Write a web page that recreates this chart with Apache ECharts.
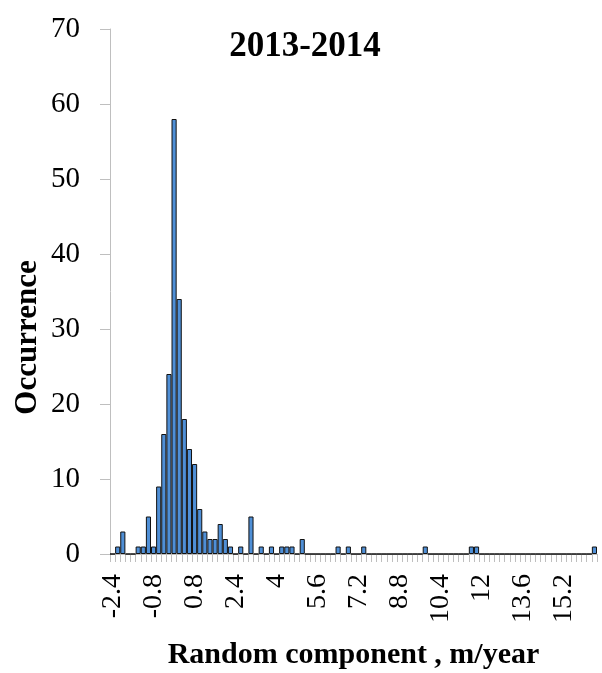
<!DOCTYPE html>
<html>
<head>
<meta charset="utf-8">
<script src="https://cdn.jsdelivr.net/npm/echarts@6/dist/echarts.min.js"></script>
<style>
  html, body { margin: 0; padding: 0; background: #fff; }
  #chart { width: 602px; height: 673px; }
</style>
</head>
<body>
<div id="chart"></div>
<script>
// Histogram bins of the random component (m/year), 0.2 wide
const binLabels = [
  '-2.4','-2.2','-2','-1.8','-1.6','-1.4','-1.2','-1','-0.8','-0.6',
  '-0.4','-0.2','0','0.2','0.4','0.6','0.8','1','1.2','1.4',
  '1.6','1.8','2','2.2','2.4','2.6','2.8','3','3.2','3.4',
  '3.6','3.8','4','4.2','4.4','4.6','4.8','5','5.2','5.4',
  '5.6','5.8','6','6.2','6.4','6.6','6.8','7','7.2','7.4',
  '7.6','7.8','8','8.2','8.4','8.6','8.8','9','9.2','9.4',
  '9.6','9.8','10','10.2','10.4','10.6','10.8','11','11.2','11.4',
  '11.6','11.8','12','12.2','12.4','12.6','12.8','13','13.2','13.4',
  '13.6','13.8','14','14.2','14.4','14.6','14.8','15','15.2','15.4',
  '15.6','15.8','16','16.2','16.4'
];

// Occurrence count per bin
const occurrence = [
  0, 1, 3, 0, 0, 1, 1, 5, 1, 9,
  16, 24, 58, 34, 18, 14, 12, 6, 3, 2,
  2, 4, 2, 1, 0, 1, 0, 5, 0, 1,
  0, 1, 0, 1, 1, 1, 0, 2, 0, 0,
  0, 0, 0, 0, 1, 0, 1, 0, 0, 1,
  0, 0, 0, 0, 0, 0, 0, 0, 0, 0,
  0, 1, 0, 0, 0, 0, 0, 0, 0, 0,
  1, 1, 0, 0, 0, 0, 0, 0, 0, 0,
  0, 0, 0, 0, 0, 0, 0, 0, 0, 0,
  0, 0, 0, 0, 1
];

const yTicks = { min: 0, max: 70, step: 10 };

const serif = "'Liberation Serif', 'DejaVu Serif', serif";
const axisGray = '#bfbfbf';

const chart = echarts.init(document.getElementById('chart'), null, { renderer: 'canvas' });

chart.setOption({
  animation: false,
  backgroundColor: '#ffffff',
  title: {
    text: '2013-2014',
    left: 300,
    top: 24,
    textAlign: 'center',
    textStyle: { fontFamily: serif, fontWeight: 'bold', fontSize: 35, color: '#000' }
  },
  grid: { left: 110, right: 5, top: 29, bottom: 119, containLabel: false, outerBoundsMode: 'none' },
  xAxis: {
    type: 'category',
    data: binLabels,
    boundaryGap: true,
    name: 'Random component , m/year',
    nameLocation: 'middle',
    nameGap: 86,
    nameMoveOverlap: false,
    nameTextStyle: { fontFamily: serif, fontWeight: 'bold', fontSize: 30, color: '#000' },
    axisLine: { show: true, lineStyle: { color: axisGray, width: 1 } },
    axisTick: { show: true, interval: 0, length: 8, lineStyle: { color: axisGray } },
    axisLabel: {
      interval: 7,
      rotate: 90,
      margin: 20,
      fontFamily: serif,
      fontSize: 28,
      color: '#000'
    },
    splitLine: { show: false }
  },
  yAxis: {
    type: 'value',
    min: yTicks.min,
    max: yTicks.max,
    interval: yTicks.step,
    name: 'Occurrence',
    nameLocation: 'middle',
    nameGap: 67,
    nameMoveOverlap: false,
    nameTextStyle: { fontFamily: serif, fontWeight: 'bold', fontSize: 31, color: '#000', padding: [0, 92, 0, 0] },
    axisLine: { show: true, lineStyle: { color: axisGray, width: 1 } },
    axisTick: { show: true, inside: false, length: 10, lineStyle: { color: axisGray } },
    axisLabel: { margin: 30, fontFamily: serif, fontSize: 29, color: '#000' },
    splitLine: { show: false }
  },
  series: [{
    type: 'bar',
    data: occurrence,
    barWidth: '100%',
    barCategoryGap: '0%',
    itemStyle: { color: '#4f8fd6', borderColor: '#111', borderWidth: 1 }
  }]
});
</script>
</body>
</html>
